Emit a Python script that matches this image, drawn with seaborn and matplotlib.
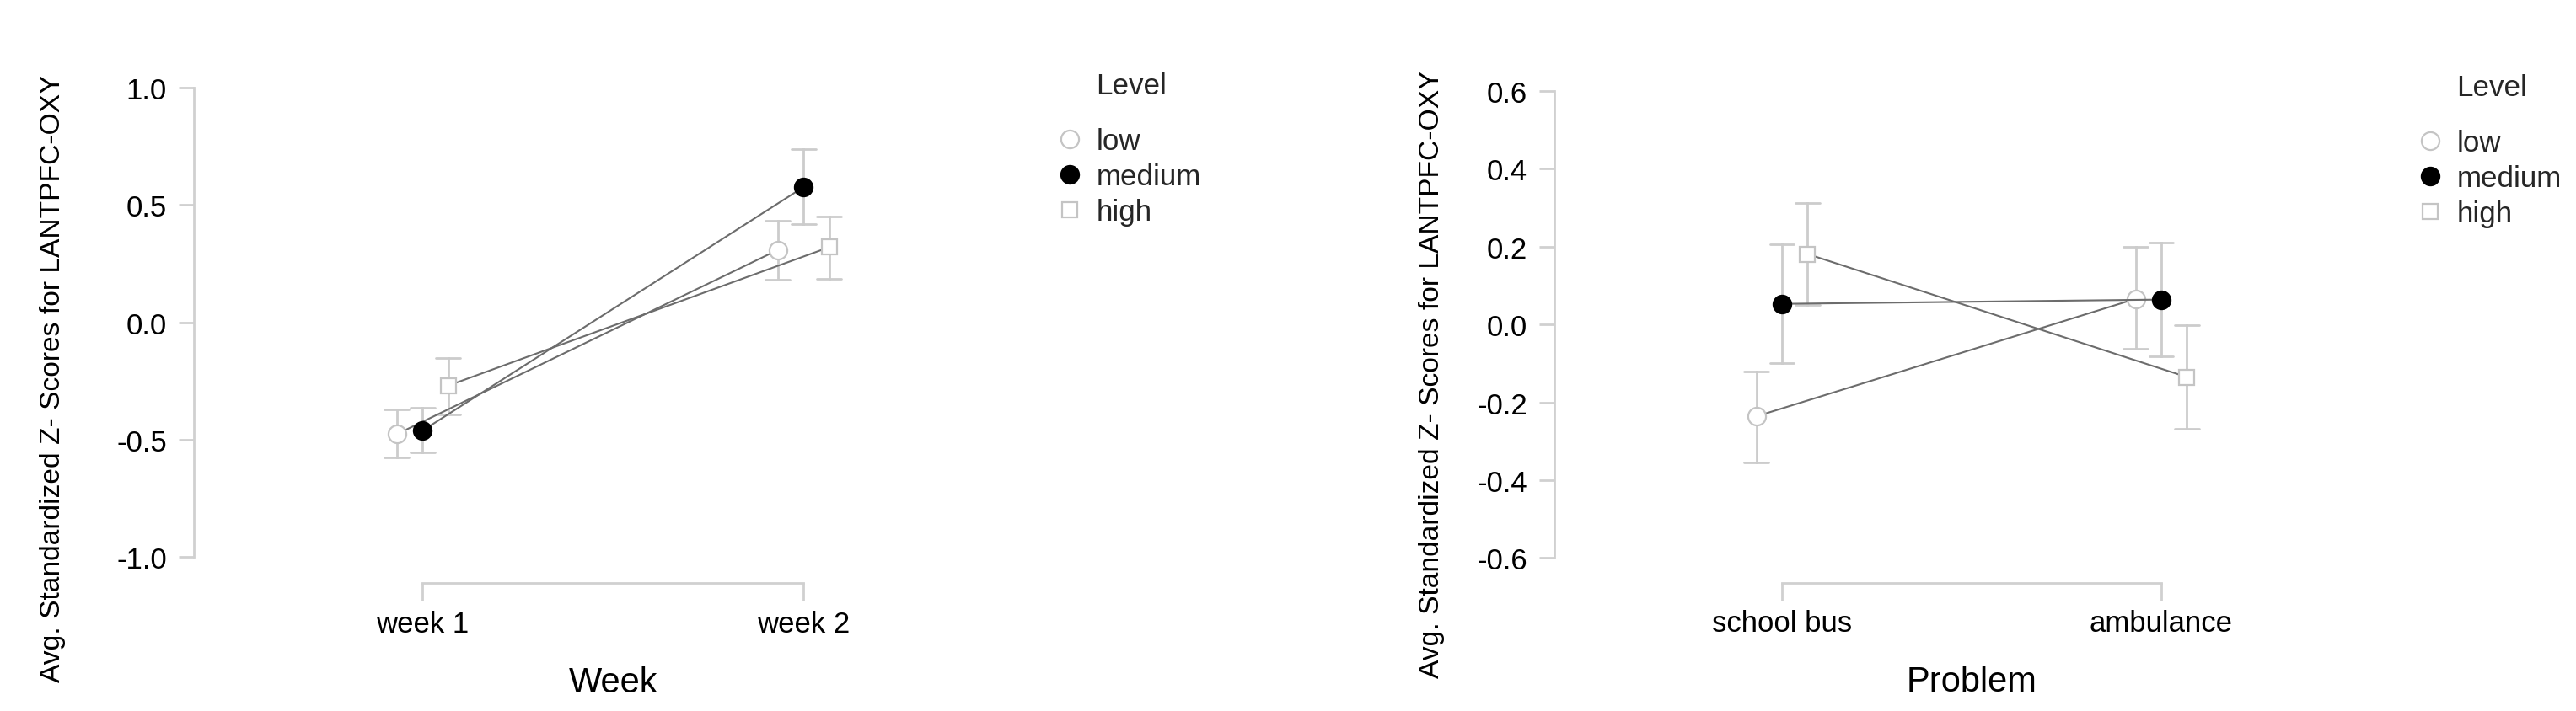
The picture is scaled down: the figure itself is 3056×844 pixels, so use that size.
import numpy as np
import pandas as pd
import matplotlib
matplotlib.use("Agg")
import matplotlib.pyplot as plt
from matplotlib.lines import Line2D
from matplotlib.transforms import Affine2D
import seaborn as sns

# ---------------- data ----------------
levels = ["low", "medium", "high"]

weeks = ["week 1", "week 2"]
week_low_mean = [-0.477, 0.308]
week_low_lower = [-0.575, 0.181]
week_low_upper = [-0.373, 0.431]
week_medium_mean = [-0.462, 0.576]
week_medium_lower = [-0.556, 0.420]
week_medium_upper = [-0.363, 0.737]
week_high_mean = [-0.270, 0.320]
week_high_lower = [-0.392, 0.186]
week_high_upper = [-0.154, 0.449]

problems = ["school bus", "ambulance"]
prob_low_mean = [-0.236, 0.066]
prob_low_lower = [-0.355, -0.063]
prob_low_upper = [-0.120, 0.200]
prob_medium_mean = [0.053, 0.064]
prob_medium_lower = [-0.100, -0.081]
prob_medium_upper = [0.207, 0.211]
prob_high_mean = [0.181, -0.135]
prob_high_lower = [0.051, -0.268]
prob_high_upper = [0.312, -0.002]

week_ticks = [-1.0, -0.5, 0.0, 0.5, 1.0]
prob_ticks = [-0.6, -0.4, -0.2, 0.0, 0.2, 0.4, 0.6]

y_title = "Avg. Standardized Z- Scores for LANTPFC-OXY"
legend_title = "Level"


def long_frame(cats, series):
    rows = []
    for lvl, (mean, lower, upper) in series.items():
        for i, c in enumerate(cats):
            for v in (lower[i], mean[i], upper[i]):
                rows.append({"cat": c, "level": lvl, "value": v})
    return pd.DataFrame(rows)


week_df = long_frame(weeks, {
    "low": (week_low_mean, week_low_lower, week_low_upper),
    "medium": (week_medium_mean, week_medium_lower, week_medium_upper),
    "high": (week_high_mean, week_high_lower, week_high_upper),
})
prob_df = long_frame(problems, {
    "low": (prob_low_mean, prob_low_lower, prob_low_upper),
    "medium": (prob_medium_mean, prob_medium_lower, prob_medium_upper),
    "high": (prob_high_mean, prob_high_lower, prob_high_upper),
})

# ---------------- style ----------------
sns.set_theme(style="white")
plt.rcParams["font.family"] = ["Liberation Sans", "DejaVu Sans"]
plt.rcParams["axes.unicode_minus"] = False

LINE_C = "#6c6c6c"
ERR_C = "#cccccc"
SPINE_C = "#d0d0d0"
EDGE_C = "#c4c4c4"
marker_style = {
    "low": dict(marker="o", mfc="white", mec=EDGE_C, ms=7.6, mew=0.8),
    "medium": dict(marker="o", mfc="black", mec="black", ms=7.6, mew=0.8),
    "high": dict(marker="s", mfc="white", mec=EDGE_C, ms=6.4, mew=0.8),
}

W, H = 3056, 845
fig = plt.figure(figsize=(W / 200, H / 200), dpi=200)


def make_panel(rect, df, cats, ylim, ticks, xlabel, ylabel_xy, legend_xy):
    ax = fig.add_axes(rect)
    sns.pointplot(
        data=df, x="cat", y="value", hue="level", order=cats, hue_order=levels,
        estimator="median", errorbar=("pi", 100), dodge=0.135,
        markers=["o", "o", "s"], linestyles="-", palette=[LINE_C] * 3,
        capsize=0.064, err_kws={"color": ERR_C, "linewidth": 1.0},
        linewidth=0.75, legend=False, ax=ax,
    )
    main = [ln for ln in ax.lines if ln.get_marker() not in (None, "None", "", " ")]
    for ln in ax.lines:
        if ln in main:
            continue
        ln.set_color(ERR_C)
        ln.set_linewidth(1.0)
        ln.set_zorder(2)
    for lvl, ln in zip(levels, main):
        st = marker_style[lvl]
        ln.set_color(LINE_C)
        ln.set_linewidth(0.75)
        ln.set_marker(st["marker"])
        ln.set_markerfacecolor(st["mfc"])
        ln.set_markeredgecolor(st["mec"])
        ln.set_markersize(st["ms"])
        ln.set_markeredgewidth(st["mew"])
        ln.set_zorder(3)

    ax.set_xlim(-0.6, 1.6)
    ax.set_ylim(*ylim)
    ax.set_yticks(ticks)
    ax.set_yticklabels([f"{t:.1f}" for t in ticks])
    for s in ("top", "right"):
        ax.spines[s].set_visible(False)
    for s in ("left", "bottom"):
        ax.spines[s].set_color(SPINE_C)
        ax.spines[s].set_linewidth(1.0)
    ax.spines["left"].set_bounds(ticks[0], ticks[-1])
    ax.spines["bottom"].set_bounds(0, 1)
    ax.tick_params(axis="x", colors=SPINE_C, labelcolor="black", length=7.5,
                   width=1.0, pad=4, labelsize=12.5, direction="out", bottom=True)
    ax.tick_params(axis="y", colors=SPINE_C, labelcolor="black", length=6.5,
                   width=1.0, pad=5, labelsize=12.5, direction="out", left=True)
    ax.set_xlabel(xlabel, fontsize=15, color="black")
    ax.xaxis.set_label_coords(0.5, -0.167)
    ax.set_ylabel(y_title, fontsize=12.1, color="black")
    ax.yaxis.set_label_coords(*ylabel_xy)
    ax.grid(False)

    handles = [Line2D([], [], linestyle="none", marker=marker_style[l]["marker"],
                      markerfacecolor=marker_style[l]["mfc"],
                      markeredgecolor=marker_style[l]["mec"],
                      markersize=marker_style[l]["ms"],
                      markeredgewidth=marker_style[l]["mew"]) for l in levels]
    leg = ax.legend(handles, levels, title=legend_title, loc="upper left",
                    bbox_to_anchor=legend_xy, bbox_transform=fig.transFigure,
                    frameon=False, fontsize=12.6, title_fontsize=12.6,
                    alignment="left", borderpad=0, borderaxespad=0,
                    handlelength=0.8, handletextpad=0.5, labelspacing=0.26)
    t = leg.get_title()
    t.set_transform(t.get_transform() + Affine2D().translate(45, 24))
    return ax


# left panel geometry (pixels)
l_left, l_unit = 230, 452
l_top, l_bot = 105, 693
ax1 = make_panel(
    [l_left / W, (H - l_bot) / H, 2.2 * l_unit / W, (l_bot - l_top) / H],
    week_df, weeks, (-1.111, 1.0), week_ticks, "Week",
    (-0.153, 0.415), ((l_left + 1025) / W, 1 - 110 / H),
)

r_left, r_unit = 1844, 450
r_top, r_bot = 109, 692.5
ax2 = make_panel(
    [r_left / W, (H - r_bot) / H, 2.2 * r_unit / W, (r_bot - r_top) / H],
    prob_df, problems, (-0.663, 0.6), prob_ticks, "Problem",
    (-0.131, 0.425), ((r_left + 1025) / W, 1 - 112 / H),
)

fig.savefig("out.png", dpi=200)
